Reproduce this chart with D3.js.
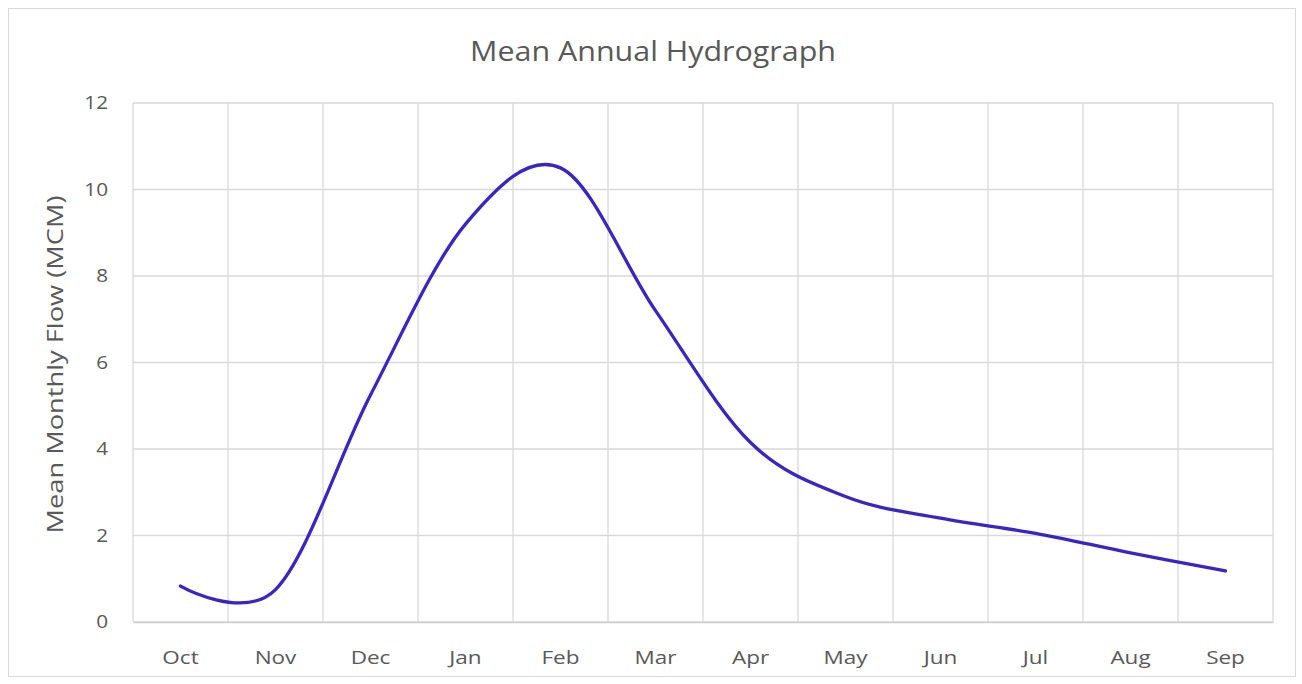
<!DOCTYPE html>
<html>
<head>
<meta charset="utf-8">
<script src="https://cdn.jsdelivr.net/npm/d3@7"></script>
<style>
	body { margin: 0; background: #fff; }
	text { font-family: "Open Sans", "Liberation Sans", sans-serif; fill: #595959; }
	.grid line { stroke: #d9d9d9; stroke-width: 1.3; }
	.tick-label { font-size: 18px; }
</style>
</head>
<body>
<div id="chart"></div>
<script>
var months = ['Oct', 'Nov', 'Dec', 'Jan', 'Feb', 'Mar', 'Apr', 'May', 'Jun', 'Jul', 'Aug', 'Sep'];
var flow = [0.83, 0.75, 5.25, 9.2, 10.5, 7.2, 4.15, 2.9, 2.4, 2.05, 1.6, 1.18];
var yTicks = [0, 2, 4, 6, 8, 10, 12];

var width = 1302;
var height = 684;
var margin = { left: 133, right: 29, top: 103, bottom: 62 };
var plotW = width - margin.left - margin.right;
var plotH = height - margin.top - margin.bottom;

var svg = d3.select('#chart').append('svg')
	.attr('width', width)
	.attr('height', height);

// outer chart border
svg.append('rect')
	.attr('x', 8.5)
	.attr('y', 8.5)
	.attr('width', 1287)
	.attr('height', 668)
	.attr('fill', '#fff')
	.attr('stroke', '#d9d9d9')
	.attr('stroke-width', 1);

var x = d3.scaleBand()
	.domain(months)
	.range([0, plotW]);

var y = d3.scaleLinear()
	.domain([0, 12])
	.range([plotH, 0]);

var g = svg.append('g')
	.attr('transform', 'translate(' + margin.left + ',' + margin.top + ')');

// stretch text horizontally a bit, like the wide-set labels of the original
function stretch(sel, k) {
	sel.each(function() {
		d3.select(this)
			.attr('lengthAdjust', 'spacingAndGlyphs')
			.attr('textLength', this.getComputedTextLength() * k);
	});
}

// grid - horizontal
g.append('g').attr('class', 'grid')
	.selectAll('line')
	.data(yTicks)
	.enter().append('line')
		.attr('x1', 0)
		.attr('x2', plotW)
		.attr('y1', function(d) { return y(d); })
		.attr('y2', function(d) { return y(d); });

// grid - vertical (category boundaries)
var bounds = months.map(function(m) { return x(m); }).concat(plotW);
g.append('g').attr('class', 'grid')
	.selectAll('line')
	.data(bounds)
	.enter().append('line')
		.attr('x1', function(d) { return d; })
		.attr('x2', function(d) { return d; })
		.attr('y1', 0)
		.attr('y2', plotH);

// y axis labels
var yAxis = d3.axisLeft(y).tickValues(yTicks).tickSize(0).tickPadding(25);
var gy = g.append('g').call(yAxis);
gy.select('.domain').remove();
gy.selectAll('text').attr('class', 'tick-label').attr('fill', null).call(stretch, 1.15);

// x axis
var xAxis = d3.axisBottom(x).tickSize(0).tickPadding(29);
var gx = g.append('g')
	.attr('transform', 'translate(0,' + plotH + ')')
	.call(xAxis);
gx.select('.domain').attr('stroke', '#d0d0d0').attr('stroke-width', 1.5);
gx.selectAll('text').attr('class', 'tick-label').attr('fill', null).call(stretch, 1.25);

// line
var line = d3.line()
	.x(function(d, i) { return x(months[i]) + x.bandwidth() / 2; })
	.y(function(d) { return y(d); })
	.curve(d3.curveCardinal.tension(0));

g.append('path')
	.datum(flow)
	.attr('fill', 'none')
	.attr('stroke', '#3726c4')
	.attr('stroke-width', 3.3)
	.attr('stroke-linecap', 'round')
	.attr('d', line);

// title
svg.append('text')
	.attr('x', 653)
	.attr('y', 61)
	.attr('text-anchor', 'middle')
	.attr('lengthAdjust', 'spacingAndGlyphs')
	.attr('textLength', 366)
	.style('font-size', '27px')
	.text('Mean Annual Hydrograph');

// y title
svg.append('text')
	.attr('transform', 'translate(63,' + (margin.top + plotH / 2 + 2) + ') rotate(-90)')
	.attr('text-anchor', 'middle')
	.attr('lengthAdjust', 'spacingAndGlyphs')
	.attr('textLength', 338)
	.style('font-size', '22px')
	.text('Mean Monthly Flow (MCM)');
</script>
</body>
</html>
